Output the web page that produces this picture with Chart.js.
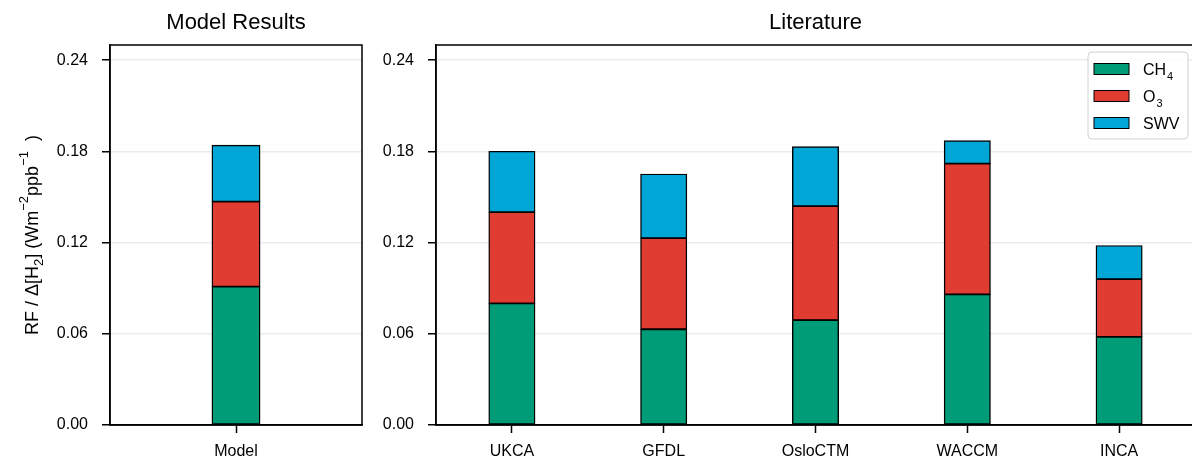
<!DOCTYPE html>
<html>
<head>
<meta charset="utf-8">
<script src="https://cdn.jsdelivr.net/npm/chart.js@4"></script>
<style>
  html, body { margin: 0; padding: 0; background: #fff; overflow: hidden; width: 1192px; height: 462px; }
  #wrap { position: relative; width: 1192px; height: 462px; }
  canvas { position: absolute; top: 0; }
  #modelChart { left: 0; }
  #litChart { left: 370px; }
</style>
</head>
<body>
<div id="wrap">
  <canvas id="modelChart" width="370" height="462"></canvas>
  <canvas id="litChart" width="830" height="462"></canvas>
</div>
<script>
// values (RF per ppb H2)
const modelCategories = ['Model'];
const litCategories = ['UKCA', 'GFDL', 'OsloCTM', 'WACCM', 'INCA'];
const seriesNames = ['CH4', 'O3', 'SWV'];
const seriesColors = ['#009B77', '#E03C32', '#00A6D6'];

const modelCH4 = [0.091];
const modelO3 = [0.056];
const modelSWV = [0.037];

const litCH4 = [0.080, 0.063, 0.069, 0.086, 0.058];
const litO3 = [0.060, 0.060, 0.075, 0.086, 0.038];
const litSWV = [0.040, 0.042, 0.039, 0.015, 0.022];

const yTicks = [0, 0.06, 0.12, 0.18, 0.24];
const yMax = 0.25;

const FONT = '"Liberation Sans", Arial, Helvetica, sans-serif';

// draws text where trailing digits become a subscript (CH4 -> CH + small 4)
function drawChem(ctx, label, x, y, size) {
  const m = label.match(/^(.*?)(\d*)$/);
  ctx.font = `${size}px ${FONT}`;
  ctx.fillText(m[1], x, y);
  if (m[2]) {
    const w = ctx.measureText(m[1]).width;
    ctx.font = `${Math.round(size * 0.7)}px ${FONT}`;
    ctx.fillText(m[2], x + w + 1, y + 5);
  }
}

const panelDecor = {
  id: 'panelDecor',
  afterDraw(chart, args, opts) {
    const ctx = chart.ctx;
    const a = chart.chartArea;
    ctx.save();

    // box around the axes
    ctx.strokeStyle = '#000';
    ctx.lineWidth = 1.5;
    ctx.strokeRect(a.left, a.top, a.right - a.left, a.bottom - a.top);

    // panel title
    ctx.fillStyle = '#000';
    ctx.font = `22px ${FONT}`;
    ctx.textAlign = 'center';
    ctx.textBaseline = 'alphabetic';
    ctx.fillText(opts.title, (a.left + a.right) / 2, 29);

    // y axis title with sub/superscripts
    if (opts.yTitle) {
      const parts = [
        { t: 'RF / \u0394[H', s: 0 }, { t: '2', s: 1 }, { t: '] (Wm', s: 0 },
        { t: '\u22122', s: -1 }, { t: 'ppb', s: 0 }, { t: '\u22121', s: -1 }, { t: '  )', s: 0 }
      ];
      const fontFor = p => p.s === 0 ? `18px ${FONT}` : `13px ${FONT}`;
      let total = 0;
      parts.forEach(p => { ctx.font = fontFor(p); p.w = ctx.measureText(p.t).width; total += p.w; });
      ctx.translate(38, (a.top + a.bottom) / 2);
      ctx.rotate(-Math.PI / 2);
      ctx.textAlign = 'left';
      let x = -total / 2;
      parts.forEach(p => {
        ctx.font = fontFor(p);
        const dy = p.s === 1 ? 5 : (p.s === -1 ? -10 : 0);
        ctx.fillText(p.t, x, dy);
        x += p.w;
      });
      ctx.setTransform(1, 0, 0, 1, 0, 0);
    }

    // legend inside the literature panel
    if (opts.legend) {
      const x0 = a.right - 107, y0 = a.top + 7, w = 100, h = 87;
      ctx.beginPath();
      ctx.roundRect(x0, y0, w, h, 4);
      ctx.fillStyle = 'rgba(255,255,255,0.85)';
      ctx.fill();
      ctx.strokeStyle = '#d0d0d0';
      ctx.lineWidth = 1;
      ctx.stroke();
      ctx.textAlign = 'left';
      chart.data.datasets.forEach((ds, i) => {
        const cy = y0 + 17 + i * 27;
        ctx.fillStyle = ds.backgroundColor;
        ctx.fillRect(x0 + 6, cy - 5.5, 35, 11);
        ctx.strokeStyle = '#000';
        ctx.strokeRect(x0 + 6, cy - 5.5, 35, 11);
        ctx.fillStyle = '#000';
        drawChem(ctx, ds.label, x0 + 55, cy + 6, 16);
      });
    }
    ctx.restore();
  }
};

function makeDatasets(values, barPct) {
  return values.map((vals, i) => ({
    label: seriesNames[i],
    data: vals,
    backgroundColor: seriesColors[i],
    borderColor: '#000',
    borderWidth: 1.4,
    borderSkipped: false,
    inflateAmount: 0.5,
    barPercentage: barPct,
    categoryPercentage: 1
  }));
}

function makeOptions(yWidth, padRight, decor) {
  return {
    responsive: false,
    animation: false,
    devicePixelRatio: 1,
    layout: { padding: { left: 0, top: 45, right: padRight, bottom: 0 } },
    plugins: {
      legend: { display: false },
      tooltip: { enabled: false },
      panelDecor: decor
    },
    scales: {
      x: {
        stacked: true,
        offset: true,
        grid: { drawOnChartArea: false, offset: false, tickLength: 8, tickColor: '#000', tickWidth: 1.5 },
        border: { color: '#000', width: 1.5 },
        ticks: { color: '#000', font: { family: FONT, size: 16 }, padding: 9, maxRotation: 0, autoSkip: false },
        afterFit: s => { s.height = 37; }
      },
      y: {
        stacked: true,
        min: 0,
        max: yMax,
        afterBuildTicks: s => { s.ticks = yTicks.map(v => ({ value: v })); },
        grid: { color: '#ebebeb', lineWidth: 1.5, tickLength: 8, tickColor: '#000', tickWidth: 1.5 },
        border: { color: '#000', width: 1.5 },
        ticks: { color: '#000', font: { family: FONT, size: 16 }, padding: 14, callback: v => Number(v).toFixed(2) },
        afterFit: s => { s.width = yWidth; }
      }
    }
  };
}

new Chart(document.getElementById('modelChart'), {
  type: 'bar',
  data: { labels: modelCategories, datasets: makeDatasets([modelCH4, modelO3, modelSWV], 0.19) },
  options: makeOptions(110, 8, { title: 'Model Results', yTitle: true, legend: false }),
  plugins: [panelDecor]
});

new Chart(document.getElementById('litChart'), {
  type: 'bar',
  data: { labels: litCategories, datasets: makeDatasets([litCH4, litO3, litSWV], 0.303) },
  options: makeOptions(66, 5, { title: 'Literature', yTitle: false, legend: true }),
  plugins: [panelDecor]
});
</script>
</body>
</html>
